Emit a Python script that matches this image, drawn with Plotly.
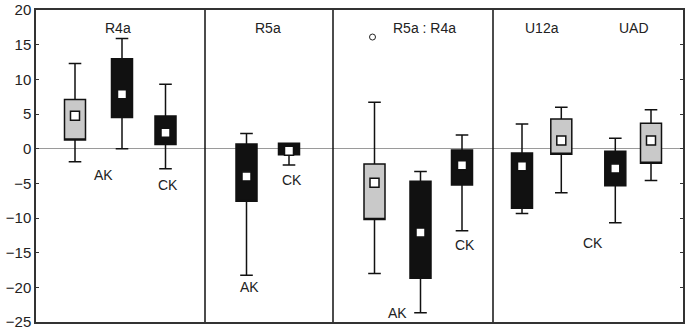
import plotly.graph_objects as go

# ---- data ----
groups   = ["R4a", "R4a", "R4a", "R5a", "R5a", "R5a : R4a", "R5a : R4a", "R5a : R4a",
            "U12a", "U12a", "UAD", "UAD"]
kind     = ["gray", "black", "black", "black", "black", "gray", "black", "black",
            "black", "gray", "black", "gray"]
upper    = [12.3, 15.9, 9.3, 2.2, 0.77, 6.7, -3.3, 1.98, 3.57, 5.97, 1.49, 5.6]
q3       = [7.1, 12.96, 4.7, 0.67, 0.77, -2.2, -4.7, -0.2, -0.62, 4.29, -0.39, 3.66]
median   = [4.75, 7.85, 2.3, -4.0, -0.3, -4.9, -12.1, -2.4, -2.55, 1.16, -2.85, 1.16]
q1       = [1.25, 4.5, 0.6, -7.6, -0.87, -10.2, -18.7, -5.25, -8.6, -0.82, -5.35, -2.12]
lower    = [-1.9, 0.0, -2.9, -18.25, -2.36, -18.0, -23.65, -11.85, -9.35, -6.36, -10.7, -4.6]
outlier_group = 5
outlier_value = 16.1

panel_titles = ["R4a", "R5a", "R5a : R4a", "U12a", "UAD"]
class_labels = ["AK", "CK", "AK", "CK", "AK", "CK", "CK"]
class_values = [-3.8, -5.2, -20.0, -4.5, -23.7, -13.9, -13.6]

# ---- layout positions (horizontal slots) ----
pos = [75, 122, 165.5, 246.5, 289, 374.5, 420.5, 462, 522, 561.3, 615.3, 651]
title_pos = [117.5, 268, 424, 542, 634]
title_y = 17.45
class_pos = [103, 168, 249, 292, 397, 465, 593]
dividers = [205, 333, 493]

colors = {"gray": "#c9c9c9", "black": "#111111"}

fig = go.Figure()
for i in range(len(pos)):
    fig.add_trace(go.Box(
        x=[pos[i]], q1=[q1[i]], median=[q1[i]], q3=[q3[i]],
        lowerfence=[lower[i]], upperfence=[upper[i]],
        width=21, whiskerwidth=0.6, boxpoints=False,
        fillcolor=colors[kind[i]], line=dict(color="#111111", width=1.5),
        showlegend=False, hoverinfo="skip"))

fig.add_trace(go.Scatter(
    x=pos, y=median, mode="markers",
    marker=dict(symbol="square", size=9, color="white",
                line=dict(color="#111111", width=1.5)),
    showlegend=False, hoverinfo="skip"))

fig.add_trace(go.Scatter(
    x=[pos[outlier_group] - 2], y=[outlier_value], mode="markers",
    marker=dict(symbol="circle-open", size=6, color="#222222", line=dict(width=1)),
    showlegend=False, hoverinfo="skip"))

font = dict(family="Liberation Sans, Arial, sans-serif", size=14, color="#222222")
for t, xp in zip(panel_titles, title_pos):
    fig.add_annotation(x=xp, y=title_y, text=t, showarrow=False, font=font)
for t, xp, yv in zip(class_labels, class_pos, class_values):
    fig.add_annotation(x=xp, y=yv, text=t, showarrow=False, font=font)

for d in dividers:
    fig.add_shape(type="line", x0=d, x1=d, y0=0, y1=1, xref="x", yref="paper",
                  line=dict(color="#111111", width=1.5))

fig.update_layout(
    width=688, height=332,
    margin=dict(l=36, r=5, t=10, b=10),
    paper_bgcolor="white", plot_bgcolor="white",
    xaxis=dict(range=[36, 683], showgrid=False, zeroline=False, showticklabels=False,
               automargin=False,
               ticks="", showline=True, mirror=True, linecolor="#333333", linewidth=1.5),
    yaxis=dict(range=[-25, 20], tickvals=[-25, -20, -15, -10, -5, 0, 5, 10, 15, 20],
               automargin=False,
               showgrid=False, zeroline=True, zerolinecolor="#9a9a9a", zerolinewidth=1,
               ticks="inside", ticklen=3, tickcolor="#333333", mirror="ticks",
               showline=True, linecolor="#333333", linewidth=1.5,
               tickfont=dict(family="Liberation Sans, Arial, sans-serif", size=15,
                             color="#222222")),
)

fig.write_html("out.html", config={"displayModeBar": False},
               post_script="document.body.style.margin='0';document.body.style.overflow='hidden';")
